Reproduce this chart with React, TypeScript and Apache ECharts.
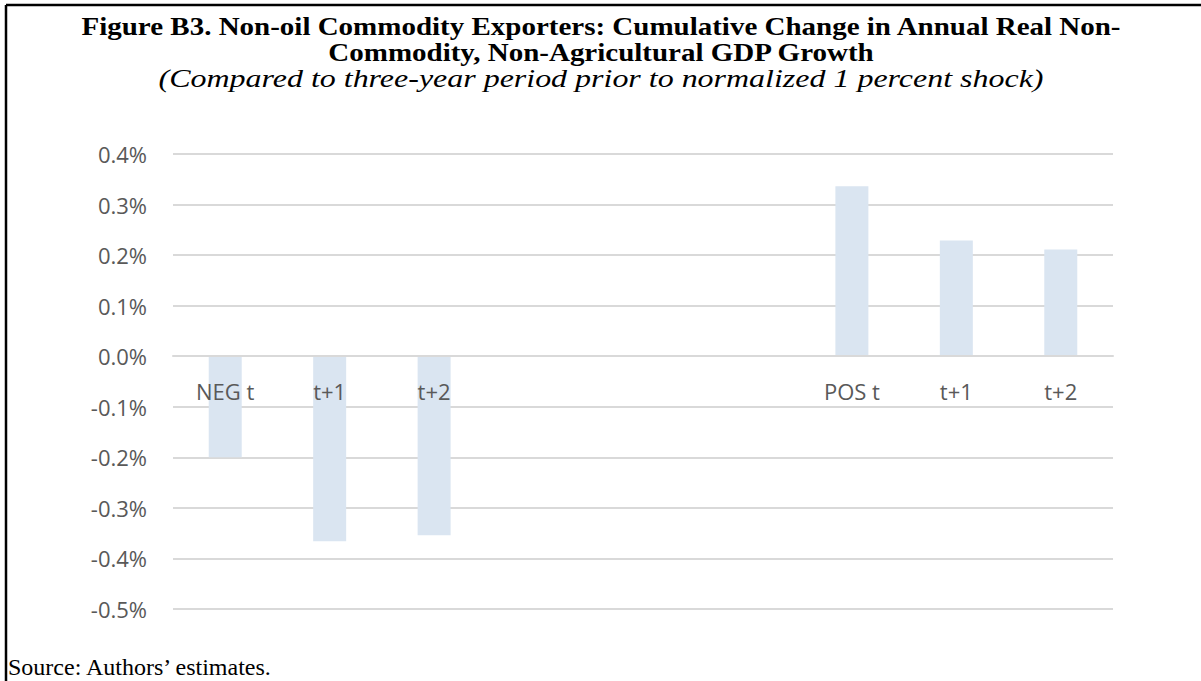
import React, { useEffect, useRef } from "react";
import * as echarts from "echarts";

const categories = ["NEG t", "t+1", "t+2", "", "", "", "POS t", "t+1", "t+2"];
const values: (number | null)[] = [-0.2, -0.366, -0.354, null, null, null, 0.336, 0.229, 0.211];
const yMin = -0.5;
const yMax = 0.4;
const yStep = 0.1;

const titleLine1 = "Figure B3. Non-oil Commodity Exporters: Cumulative Change in Annual Real Non-";
const titleLine2 = "Commodity, Non-Agricultural GDP Growth";
const subtitle = "(Compared to three-year period prior to normalized 1 percent shock)";
const sourceText = "Source: Authors\u2019 estimates.";

export default function App() {
  const ref = useRef<HTMLDivElement>(null);
  useEffect(() => {
    if (!ref.current) return;
    const chart = echarts.init(ref.current, undefined, { renderer: "svg" });
    const serif = "'Liberation Serif', 'Times New Roman', serif";
    const sans = "'Open Sans', 'Noto Sans', sans-serif";
    const gridTop = 154;
    const gridBottom = 72;
    const plotH = 681 - gridTop - gridBottom;
    const zeroFromBottom = plotH * ((0 - yMin) / (yMax - yMin));
    chart.setOption({
      animation: false,
      backgroundColor: "#ffffff",
      grid: { left: 173, right: 88, top: gridTop, bottom: gridBottom },
      xAxis: {
        type: "category",
        data: categories,
        offset: -zeroFromBottom,
        z: 10,
        axisLine: { show: true, onZero: false, lineStyle: { color: "#d9d9d9", width: 2 } },
        axisTick: { show: false },
        axisLabel: { color: "#595959", fontFamily: sans, fontSize: 22, margin: 24, interval: 0 },
      },
      yAxis: {
        type: "value",
        min: yMin,
        max: yMax,
        interval: yStep,
        axisLine: { show: false },
        axisTick: { show: false },
        splitLine: { lineStyle: { color: "#d9d9d9", width: 2 } },
        axisLabel: {
          color: "#595959",
          fontFamily: sans,
          fontSize: 22,
          margin: 26,
          formatter: (v: number) => `${(Math.round(v * 10) / 10).toFixed(1)}%`,
        },
      },
      series: [
        {
          type: "bar",
          data: values,
          barWidth: 33,
          z: 2,
          itemStyle: { color: "#dae5f1" },
        },
      ],
      graphic: [
        { type: "line", shape: { x1: 6, y1: 5, x2: 1201, y2: 5 }, style: { stroke: "#000", lineWidth: 2.5 } },
        { type: "line", shape: { x1: 6, y1: 5, x2: 6, y2: 681 }, style: { stroke: "#000", lineWidth: 2.5 } },
        {
          type: "text",
          x: 601,
          y: 26.5,
          scaleX: 1.16,
          style: { text: titleLine1, font: `bold 25px ${serif}`, fill: "#000", textAlign: "center", textVerticalAlign: "middle" },
        },
        {
          type: "text",
          x: 601,
          y: 52.5,
          scaleX: 1.16,
          style: { text: titleLine2, font: `bold 25px ${serif}`, fill: "#000", textAlign: "center", textVerticalAlign: "middle" },
        },
        {
          type: "text",
          x: 601,
          y: 78,
          scaleX: 1.23,
          style: { text: subtitle, font: `italic 26px ${serif}`, fill: "#000", textAlign: "center", textVerticalAlign: "middle" },
        },
        {
          type: "text",
          x: 8,
          y: 667,
          style: { text: sourceText, font: `24px ${serif}`, fill: "#000", textAlign: "left", textVerticalAlign: "middle" },
        },
      ],
    });
    return () => chart.dispose();
  }, []);
  return (
    <div
      ref={ref}
      style={{ position: "absolute", left: 0, top: 0, width: 1201, height: 681 }}
    />
  );
}
